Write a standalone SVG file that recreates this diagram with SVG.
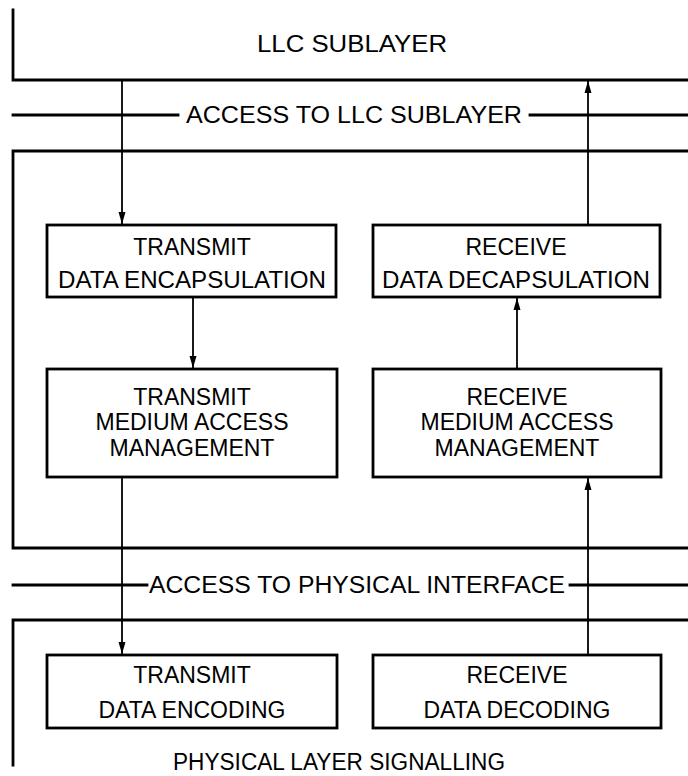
<svg xmlns="http://www.w3.org/2000/svg" width="688" height="776" viewBox="0 0 688 776">
<defs>
<style>
.frame{fill:none;stroke:#000;stroke-width:2.8;stroke-linecap:square}
.box{fill:#fff;stroke:#000;stroke-width:2.8}
.conn{fill:none;stroke:#000;stroke-width:1.8}
.t{font-family:"Liberation Sans",Arial,sans-serif;font-size:23px;fill:#000;text-anchor:middle}
.tl{font-family:"Liberation Sans",Arial,sans-serif;font-size:23px;fill:#000}
</style>
<marker id="ah" viewBox="0 -4 12 8" refX="12" refY="0" markerWidth="12" markerHeight="8" markerUnits="userSpaceOnUse" orient="auto">
<path d="M0,-3.5 L12,0 L0,3.5 z" fill="#000"/>
</marker>
</defs>
<rect width="688" height="776" fill="#fff"/>

<g id="llc-sublayer">
<path class="frame" d="M13,10 V80 H688"/>
<text class="t" x="352" y="52" textLength="190" lengthAdjust="spacingAndGlyphs">LLC  SUBLAYER</text>
</g>

<g id="access-llc">
<path class="frame" d="M13,115 H178 M530,115 H688"/>
<text class="tl" x="186" y="123" textLength="336" lengthAdjust="spacingAndGlyphs">ACCESS TO LLC  SUBLAYER</text>
</g>

<g id="mac-frame">
<path class="frame" d="M688,151 H13 V548 H688"/>
</g>

<g id="access-phys">
<path class="frame" d="M13,585 H147 M570,585 H688"/>
<text class="tl" x="149" y="593" textLength="416" lengthAdjust="spacingAndGlyphs">ACCESS TO PHYSICAL INTERFACE</text>
</g>

<g id="phys-frame">
<path class="frame" d="M688,620 H13 V765"/>
<text class="t" x="339" y="770" textLength="332" lengthAdjust="spacingAndGlyphs">PHYSICAL LAYER SIGNALLING</text>
</g>

<g id="connectors">
<line class="conn" x1="122" y1="80" x2="122" y2="224" marker-end="url(#ah)"/>
<line class="conn" x1="588" y1="224" x2="588" y2="81" marker-end="url(#ah)"/>
<line class="conn" x1="193" y1="297" x2="193" y2="368" marker-end="url(#ah)"/>
<line class="conn" x1="517" y1="369" x2="517" y2="298" marker-end="url(#ah)"/>
<line class="conn" x1="122" y1="477" x2="122" y2="654" marker-end="url(#ah)"/>
<line class="conn" x1="588" y1="655" x2="588" y2="478" marker-end="url(#ah)"/>
</g>

<g id="tx-encap">
<rect class="box" x="47" y="225" width="289" height="72"/>
<text class="t" x="192" y="255">TRANSMIT</text>
<text class="t" x="192" y="288" textLength="268" lengthAdjust="spacingAndGlyphs">DATA ENCAPSULATION</text>
</g>

<g id="rx-decap">
<rect class="box" x="373" y="225" width="287" height="72"/>
<text class="t" x="516" y="255">RECEIVE</text>
<text class="t" x="516" y="288" textLength="268" lengthAdjust="spacingAndGlyphs">DATA DECAPSULATION</text>
</g>

<g id="tx-mac">
<rect class="box" x="47" y="369" width="290" height="108"/>
<text class="t" x="192" y="405">TRANSMIT</text>
<text class="t" x="192" y="430">MEDIUM ACCESS</text>
<text class="t" x="192" y="456">MANAGEMENT</text>
</g>

<g id="rx-mac">
<rect class="box" x="373" y="369" width="288" height="108"/>
<text class="t" x="517" y="405">RECEIVE</text>
<text class="t" x="517" y="430">MEDIUM ACCESS</text>
<text class="t" x="517" y="456">MANAGEMENT</text>
</g>

<g id="tx-encoding">
<rect class="box" x="47" y="655" width="290" height="73"/>
<text class="t" x="192" y="683">TRANSMIT</text>
<text class="t" x="192" y="718">DATA ENCODING</text>
</g>

<g id="rx-decoding">
<rect class="box" x="373" y="655" width="288" height="73"/>
<text class="t" x="517" y="683">RECEIVE</text>
<text class="t" x="517" y="718">DATA DECODING</text>
</g>
</svg>
